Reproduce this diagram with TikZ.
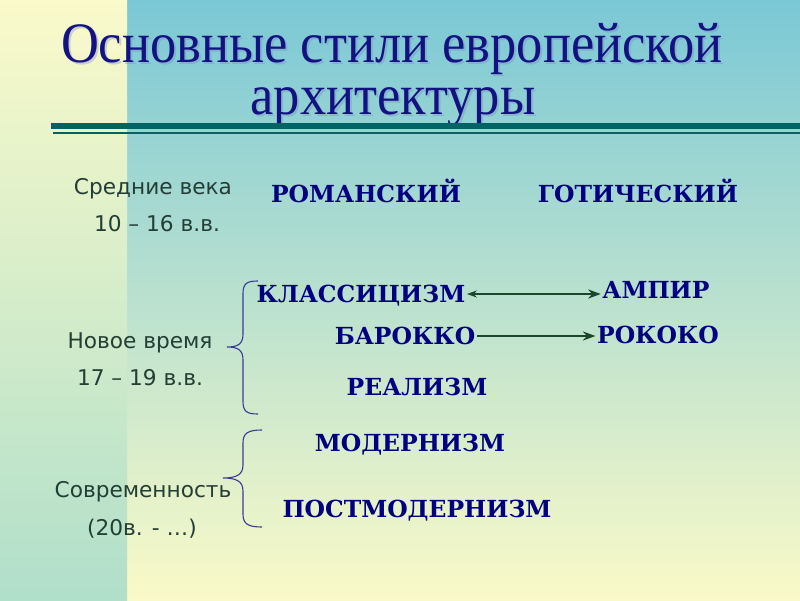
\documentclass[tikz,border=0pt]{standalone}
\usepackage{fontspec}
\setmainfont{Liberation Serif}
\newfontfamily\verdfont{DejaVu Sans}
\newfontfamily\bookfont{DejaVu Serif}
\usetikzlibrary{arrows.meta}
\definecolor{bgtop}{RGB}{122,200,214}
\definecolor{bgbot}{RGB}{250,250,200}
\definecolor{striptop}{RGB}{250,250,202}
\definecolor{stripbot}{RGB}{176,223,202}
\definecolor{navy}{RGB}{0,0,128}
\definecolor{titleblue}{RGB}{18,18,128}
\definecolor{shadowc}{RGB}{120,130,200}
\definecolor{rulec}{RGB}{0,100,100}
\definecolor{lblc}{RGB}{35,62,52}
\definecolor{bracec}{RGB}{60,60,150}
\definecolor{arrc}{RGB}{28,72,42}

\begin{document}
\begin{tikzpicture}[x=0.025cm, y=0.025cm,
		ttl/.style={anchor=base, inner sep=0pt, text depth=0pt, font=\fontsize{37.3}{40}\selectfont},
		lbl/.style={anchor=base, inner sep=0pt, text=lblc, font=\verdfont\fontsize{15.4}{18}\selectfont},
		stil/.style={anchor=base, inner sep=1pt, text=navy, font=\bookfont\bfseries\fontsize{16.7}{19}\selectfont},
		arr/.style={arrc, line width=1.1pt},
		brc/.style={bracec, line width=0.8pt}]
		\useasboundingbox (0,0) rectangle (800,600);
		\shade[top color=bgtop, bottom color=bgbot] (127,0) rectangle (800,600);
		\shade[top color=striptop, bottom color=stripbot] (0,0) rectangle (127,600);

		\node[ttl, text=shadowc, opacity=.35] (title1s) at (394,535) {\scalebox{1}[1.09]{Основные стили европейской}};
		\node[ttl, text=shadowc, opacity=.35] (title2s) at (395,483) {\scalebox{1}[1.09]{архитектуры}};
		\node[ttl, text=titleblue] (title1) at (392,537) {\scalebox{1}[1.09]{Основные стили европейской}};
		\node[ttl, text=titleblue] (title2) at (393,485) {\scalebox{1}[1.09]{архитектуры}};
		\draw[rulec, line width=3.6pt] (51,474) -- (800,474);
		\draw[rulec, line width=1pt] (53,467) -- (800,467);

		\node[lbl] (sred) at (153,405) {Средние века};
		\node[lbl] (sred2) at (157,368) {10 – 16 в.в.};
		\node[lbl] (nov) at (140,252) {Новое время};
		\node[lbl] (nov2) at (140,215) {17 – 19 в.в.};
		\node[lbl] (sovr) at (143,103) {Современность};
		\node[lbl] (sovr2) at (142,65) {(20в. - …)};

		\node[stil] (roman) at (366,397) {РОМАНСКИЙ};
		\node[stil] (gotik) at (638,398) {ГОТИЧЕСКИЙ};
		\node[stil] (klass) at (361,298) {КЛАССИЦИЗМ};
		\node[stil] (ampir) at (656,302) {АМПИР};
		\node[stil] (barok) at (405,256) {БАРОККО};
		\node[stil] (rokok) at (658,257) {РОКОКО};
		\node[stil] (real) at (417,205) {РЕАЛИЗМ};
		\node[stil] (modern) at (410,149) {МОДЕРНИЗМ};
		\node[stil] (postmod) at (417,83) {ПОСТМОДЕРНИЗМ};

		\draw[arr, {Stealth[length=7pt, width=5pt]}-{Stealth[length=9pt, width=6.5pt]}] ([yshift=2mm]klass.base east) coordinate (k) -- (k -| ampir.west);
		\draw[arr, -{Stealth[length=9pt, width=6.5pt]}] ([yshift=2mm]barok.base east) coordinate (b) -- (b -| rokok.west);

		\draw[brc] (258,319) .. controls (246,319) and (243,316) .. (243,306) -- (243,266) .. controls (243,256) and (238,253) .. (227,253) .. controls (238,253) and (243,250) .. (243,240) -- (243,199) .. controls (243,189) and (246,186) .. (258,186);
		\draw[brc] (262,170) .. controls (248,170) and (243,167) .. (243,157) -- (243,135) .. controls (243,125) and (236,122) .. (223,122) .. controls (236,122) and (243,119) .. (243,109) -- (243,86) .. controls (243,76) and (248,73) .. (262,73);
	\end{tikzpicture}
\end{document}
